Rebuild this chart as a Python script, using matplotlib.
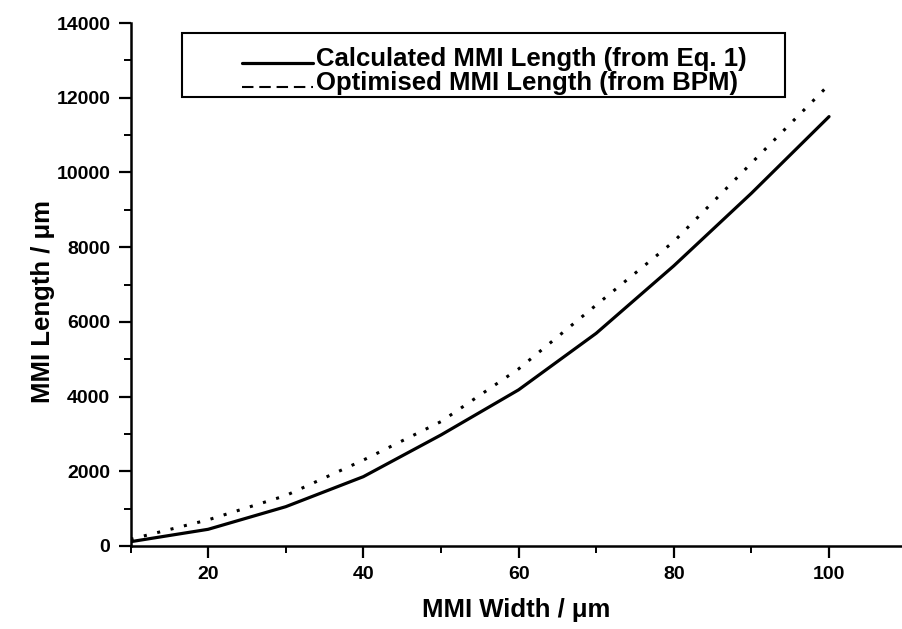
import matplotlib
matplotlib.use("Agg")
import matplotlib.pyplot as plt
from matplotlib.lines import Line2D
from matplotlib.patches import Rectangle
from matplotlib.ticker import MultipleLocator
from matplotlib.legend_handler import HandlerLine2D

# ---- data ----
mmi_width = [10, 20, 30, 40, 50, 60, 70, 80, 90, 100]
calc_length = [115, 447, 1052, 1856, 2972, 4180, 5694, 7500, 9443, 11494]
bpm_length = [180, 700, 1350, 2300, 3330, 4740, 6450, 8150, 10250, 12350]

series_labels = ["Calculated MMI Length (from Eq. 1)",
                 "Optimised MMI Length (from BPM)"]
x_label = "MMI Width / \u03bcm"
y_label = "MMI Length / \u03bcm"

plt.rcParams['font.family'] = ['Liberation Sans', 'DejaVu Sans']
plt.rcParams['font.weight'] = 'bold'


class BaselineHandler(HandlerLine2D):
    """Draw the legend sample low, like an underline at the text baseline."""
    def create_artists(self, legend, orig_handle, xdescent, ydescent,
                       width, height, fontsize, trans):
        arts = super().create_artists(legend, orig_handle, xdescent,
                                      ydescent, width, height, fontsize,
                                      trans)
        for a in arts:
            if isinstance(a, Line2D):
                a.set_ydata([y - 0.38 * height for y in a.get_ydata()])
        return arts


fig = plt.figure(figsize=(9.02, 6.29), dpi=100)
ax = fig.add_axes([130.5 / 902, 83 / 629, 771.5 / 902, 523 / 629])

l1, = ax.plot(mmi_width, calc_length, color='black', lw=2.3,
              solid_capstyle='round', solid_joinstyle='round')
ax.plot(mmi_width, bpm_length, color='black', lw=2.2,
        linestyle=(0, (1, 3.5)))

ax.set_xlim(10, 109.4)
ax.set_ylim(0, 14000)
ax.set_xticks([20, 40, 60, 80, 100])
ax.xaxis.set_minor_locator(MultipleLocator(10))
ax.yaxis.set_major_locator(MultipleLocator(2000))
ax.yaxis.set_minor_locator(MultipleLocator(1000))

ax.spines['top'].set_visible(False)
ax.spines['right'].set_visible(False)
for s in ('left', 'bottom'):
    ax.spines[s].set_linewidth(1.8)

ax.tick_params(which='major', direction='out', length=8.5, width=1.6,
               labelsize=14, pad=6)
ax.tick_params(which='minor', direction='out', length=5, width=1.4)

ax.set_xlabel(x_label, fontsize=18.5, fontweight='bold')
ax.set_ylabel(y_label, fontsize=18.5, fontweight='bold')
ax.xaxis.set_label_coords(0.5, -0.100)
ax.yaxis.set_label_coords(-0.098, 0.467)

proxy_bpm = Line2D([], [], color='black', lw=1.5, linestyle=(0, (5.5, 2.8)))
leg = ax.legend([l1, proxy_bpm], series_labels, loc='upper left',
                bbox_to_anchor=(0.1445, 0.955), frameon=False,
                prop={'size': 18.5, 'weight': 'bold'},
                handlelength=2.75, handletextpad=0.12, labelspacing=0.0,
                borderpad=0, borderaxespad=0,
                handler_map={Line2D: BaselineHandler()})

ax.add_patch(Rectangle((0.0668, 0.8585), 0.7815, 0.1225,
                       transform=ax.transAxes, fill=False, lw=1.5,
                       edgecolor='black', clip_on=False, zorder=5))

fig.savefig("out.png", dpi=100)
